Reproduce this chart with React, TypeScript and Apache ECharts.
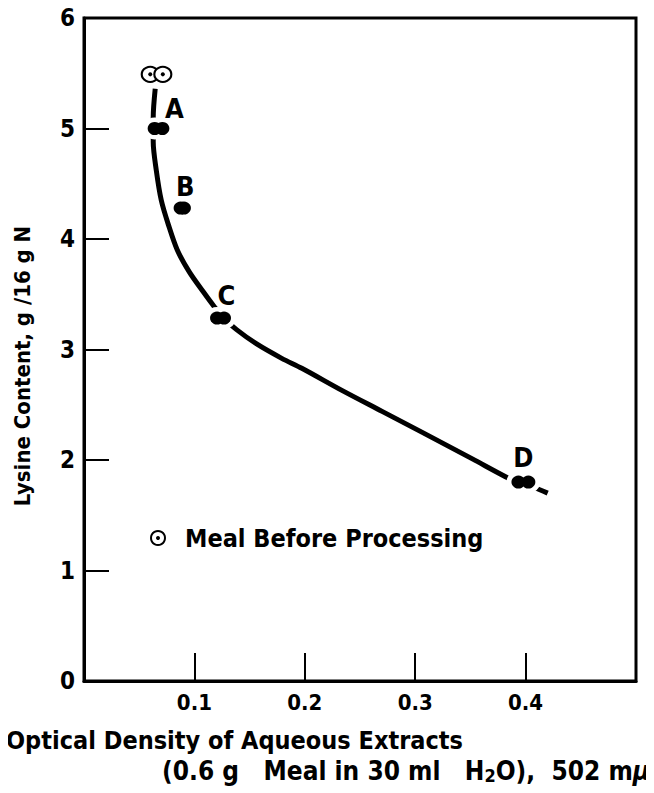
import React, { useEffect, useRef } from "react";
import * as echarts from "echarts";

// ---- data ----
const xTickLabels = ["0.1", "0.2", "0.3", "0.4"];
const yTickLabels = ["0", "1", "2", "3", "4", "5", "6"];

// fitted curve
const curveX = [0.0645, 0.0627, 0.0627, 0.0655, 0.070, 0.0764, 0.0845, 0.0955, 0.1082, 0.1182, 0.1264, 0.1382, 0.1564, 0.1791, 0.1973, 0.2336, 0.270, 0.3064, 0.3518, 0.3855, 0.3973, 0.408, 0.420];
const curveY = [5.36, 5.10, 4.88, 4.62, 4.35, 4.13, 3.90, 3.70, 3.52, 3.385, 3.285, 3.18, 3.05, 2.92, 2.83, 2.63, 2.44, 2.25, 2.01, 1.83, 1.78, 1.75, 1.70];

// processed meal samples (filled points)
const sampleX = [0.064, 0.071, 0.0875, 0.0905, 0.1205, 0.1268, 0.3935, 0.4025];
const sampleY = [5.0, 5.0, 4.28, 4.28, 3.285, 3.285, 1.80, 1.80];

// sample letters, attached to the point they name
const letters = ["A", "B", "C", "D"];
const letterX = [0.0675, 0.089, 0.1236, 0.398];
const letterY = [5.0, 4.28, 3.285, 1.80];

// meal before processing (open circles)
const rawX = [0.060, 0.0714];
const rawY = [5.49, 5.49];

const legendText = "Meal Before Processing";
const yTitle = "Lysine Content, g /16 g N";
const xTitle1 = "Optical Density of Aqueous Extracts";

// ---- styles ----
const FONT = "'Liberation Sans Narrow', 'DejaVu Sans Condensed', 'Arial Narrow', sans-serif";
const letterOffset: Record<string, [number, number]> = {
  A: [16, -20],
  B: [3, -22],
  C: [6, -23],
  D: [0, -25],
};

export default function App() {
  const ref = useRef<HTMLDivElement>(null);

  useEffect(() => {
    if (!ref.current) return;
    const chart = echarts.init(ref.current, null, { renderer: "svg" });

    const pairs = (xs: number[], ys: number[]) => xs.map((x, i) => [x, ys[i]]);

    const option: any = {
      animation: false,
      backgroundColor: "#ffffff",
      grid: {
        left: 84,
        top: 18,
        width: 552,
        height: 663,
        show: true,
        borderColor: "#000",
        borderWidth: 3,
        backgroundColor: "transparent",
      },
      xAxis: {
        type: "value",
        min: 0,
        max: 0.5,
        interval: 0.1,
        axisLine: { show: true, lineStyle: { color: "#000", width: 3 } },
        axisTick: { show: true, inside: true, length: 28, lineStyle: { color: "#000", width: 2 } },
        splitLine: { show: false },
        axisLabel: {
          margin: 10,
          color: "#000",
          fontSize: 22,
          fontWeight: "bold",
          fontFamily: FONT,
          formatter: (v: number) => {
            const s = v.toFixed(1);
            return xTickLabels.includes(s) ? s : "";
          },
        },
      },
      yAxis: {
        type: "value",
        min: 0,
        max: 6,
        interval: 1,
        axisLine: { show: true, lineStyle: { color: "#000", width: 3 } },
        axisTick: { show: true, inside: true, length: 25, lineStyle: { color: "#000", width: 2 } },
        splitLine: { show: false },
        axisLabel: {
          margin: 9,
          color: "#000",
          fontSize: 24,
          fontWeight: "bold",
          fontFamily: FONT,
          formatter: (v: number) => {
            const s = String(Math.round(v));
            return yTickLabels.includes(s) ? s : "";
          },
        },
      },
      series: [
        {
          type: "line",
          data: pairs(curveX, curveY),
          smooth: 0.3,
          symbol: "none",
          lineStyle: { color: "#000", width: 5 },
          z: 2,
          silent: true,
        },
        {
          // white halos that break the curve around each point
          type: "scatter",
          data: pairs(sampleX, sampleY),
          symbol: "circle",
          symbolSize: [24, 22],
          itemStyle: { color: "#fff", opacity: 1 },
          z: 3,
          silent: true,
        },
        {
          type: "scatter",
          data: pairs(sampleX, sampleY),
          symbol: "circle",
          symbolSize: [14, 13],
          itemStyle: { color: "#000", opacity: 1 },
          z: 4,
          silent: true,
        },
        {
          type: "scatter",
          data: letters.map((l, i) => ({
            value: [letterX[i], letterY[i]],
            name: l,
            label: { offset: letterOffset[l] },
          })),
          symbolSize: 0,
          itemStyle: { color: "transparent", opacity: 1 },
          label: {
            show: true,
            position: "inside",
            formatter: (p: any) => p.name,
            color: "#000",
            opacity: 1,
            fontSize: 27,
            fontWeight: "bold",
            fontFamily: FONT,
          },
          z: 6,
          silent: true,
        },
        {
          type: "scatter",
          data: pairs(rawX, rawY),
          symbol: "circle",
          symbolSize: [17, 15],
          itemStyle: { color: "#fff", borderColor: "#000", borderWidth: 2, opacity: 1 },
          z: 5,
          silent: true,
        },
        {
          type: "scatter",
          data: pairs(rawX, rawY),
          symbol: "circle",
          symbolSize: 4,
          itemStyle: { color: "#000", opacity: 1 },
          z: 6,
          silent: true,
        },
      ],
      graphic: [
        {
          type: "circle",
          shape: { cx: 158, cy: 538, r: 7 },
          style: { fill: "#fff", stroke: "#000", lineWidth: 2 },
          z: 10,
        },
        {
          type: "circle",
          shape: { cx: 158, cy: 538, r: 2 },
          style: { fill: "#000" },
          z: 11,
        },
        {
          type: "text",
          x: 185,
          y: 538,
          style: {
            text: legendText,
            fill: "#000",
            font: `bold 25px ${FONT}`,
            verticalAlign: "middle",
            align: "left",
          },
          z: 10,
        },
        {
          type: "text",
          x: 22,
          y: 366,
          rotation: Math.PI / 2,
          style: {
            text: yTitle,
            fill: "#000",
            font: `bold 22px ${FONT}`,
            align: "center",
            verticalAlign: "middle",
          },
          z: 10,
        },
        {
          type: "text",
          x: 6,
          y: 740,
          style: {
            text: xTitle1,
            fill: "#000",
            font: `bold 25px ${FONT}`,
            align: "left",
            verticalAlign: "middle",
          },
          z: 10,
        },
        {
          type: "text",
          x: 650,
          y: 771,
          style: {
            text: "{n|(0.6 g   Meal in 30 ml   H}{sub|2}{n|O),  502 m}{mu|μ}",
            align: "right",
            verticalAlign: "middle",
            rich: {
              n: { font: `bold 26px ${FONT}`, fill: "#000" },
              sub: { font: `bold 18px ${FONT}`, fill: "#000", padding: [8, 0, 0, 0] },
              mu: { font: `italic bold 26px ${FONT}`, fill: "#000" },
            },
          },
          z: 10,
        },
      ],
    };

    chart.setOption(option);
    return () => chart.dispose();
  }, []);

  return <div ref={ref} style={{ width: 654, height: 793, marginLeft: -8, marginTop: -8 }} />;
}
